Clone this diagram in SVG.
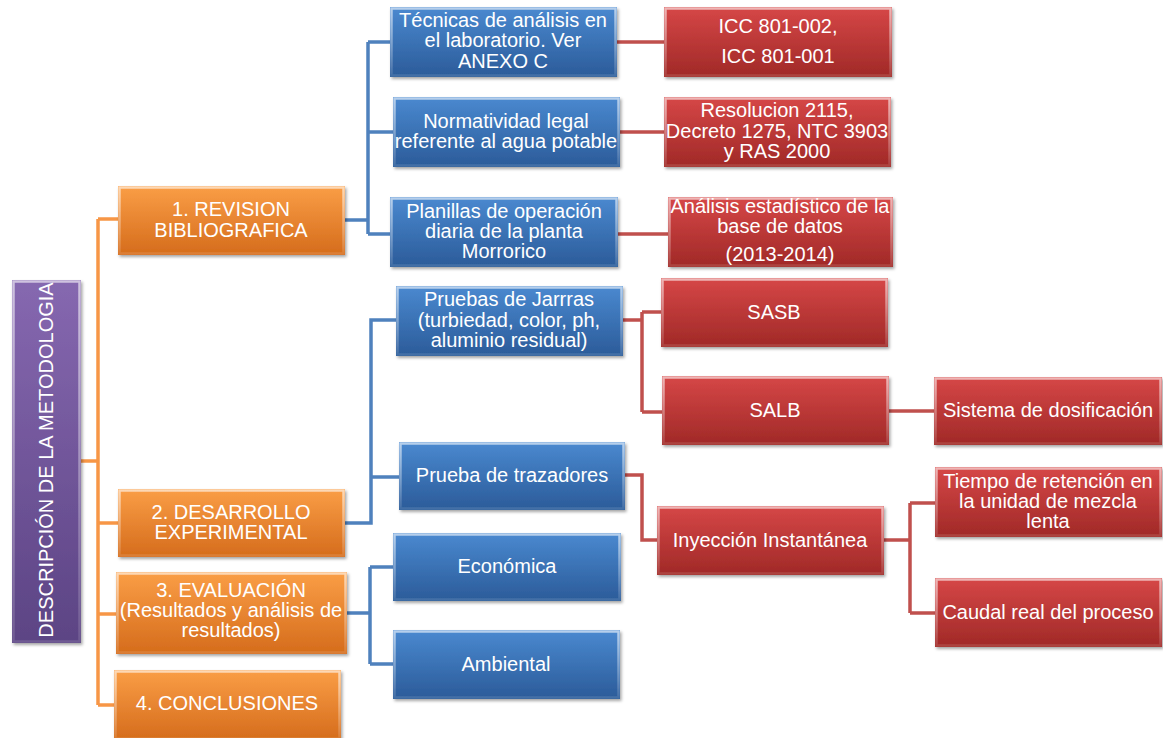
<svg xmlns="http://www.w3.org/2000/svg" width="1163" height="738" viewBox="0 0 1163 738">
<defs>
<linearGradient id="gO" x1="0" y1="0" x2="0" y2="1"><stop offset="0" stop-color="#FA9E46"/><stop offset="1" stop-color="#D56C1C"/></linearGradient>
<linearGradient id="gB" x1="0" y1="0" x2="0" y2="1"><stop offset="0" stop-color="#4A89D0"/><stop offset="1" stop-color="#2B5B99"/></linearGradient>
<linearGradient id="gR" x1="0" y1="0" x2="0" y2="1"><stop offset="0" stop-color="#D64747"/><stop offset="1" stop-color="#A02927"/></linearGradient>
<linearGradient id="gP" x1="0" y1="0" x2="0" y2="1"><stop offset="0" stop-color="#8668B0"/><stop offset="1" stop-color="#5C4484"/></linearGradient>
<linearGradient id="gH" x1="0" y1="0" x2="0" y2="1"><stop offset="0" stop-color="#ffffff" stop-opacity="0.6"/><stop offset="1" stop-color="#ffffff" stop-opacity="0.12"/></linearGradient>
<filter id="sh" x="-5%" y="-5%" width="112%" height="120%"><feDropShadow dx="1.5" dy="2" stdDeviation="1.5" flood-color="#000" flood-opacity="0.35"/></filter>
</defs>
<style>
.face{filter:url(#sh)}
.o .face{fill:url(#gO)}
.b .face{fill:url(#gB)}
.r .face{fill:url(#gR)}
.p .face{fill:url(#gP)}
.hl{fill:none;stroke:url(#gH);stroke-width:2.5}
text{font-family:"Liberation Sans",Arial,sans-serif;font-size:20px;fill:#fff;text-anchor:middle}
.con path{fill:none;stroke-width:3.5;stroke-linejoin:miter}
.co{stroke:#F79646}
.cb{stroke:#4F81BD}
.cr{stroke:#C0504D}
</style>
<rect width="1163" height="738" fill="#fff"/>
<g id="connectors" class="con">
<path class="co" d="M81 461H98M98 219V705M98 219H118M98 523H118M98 614H116M98 705H114"/>
<path class="cb" d="M345 220H368M368 42V234M368 42H390M368 132H393M368 234H390"/>
<path class="cb" d="M345 523H371V320H396M371 477H399"/>
<path class="cb" d="M347 613H370M370 567V664M370 567H393M370 664H393"/>
<path class="cr" d="M617 42H664M620 132H664M618 234H668"/>
<path class="cr" d="M623 320H642M642 312V412M642 312H661M642 412H662M889 411H934"/>
<path class="cr" d="M625 475H642V540H657"/>
<path class="cr" d="M884 540H910M910 503V613M910 503H935M910 613H935"/>
</g>
<g id="root" class="p"><rect class="face" x="12" y="280" width="69" height="363"/><rect class="hl" x="13.5" y="281.5" width="66" height="360"/><text transform="translate(53,460) rotate(-90)">DESCRIPCIÓN DE LA METODOLOGIA</text></g>
<g id="o1" class="o"><rect class="face" x="118" y="186" width="227" height="69"/><rect class="hl" x="119.5" y="187.5" width="224" height="66"/><text x="231" y="216">1. REVISION</text><text x="231" y="237">BIBLIOGRAFICA</text></g>
<g id="o2" class="o"><rect class="face" x="118" y="489" width="227" height="68"/><rect class="hl" x="119.5" y="490.5" width="224" height="65"/><text x="231" y="519">2. DESARROLLO</text><text x="231" y="539">EXPERIMENTAL</text></g>
<g id="o3" class="o"><rect class="face" x="116" y="572" width="231" height="82"/><rect class="hl" x="117.5" y="573.5" width="228" height="79"/><text x="231" y="597">3. EVALUACIÓN</text><text x="231" y="617">(Resultados y análisis de</text><text x="231" y="637">resultados)</text></g>
<g id="o4" class="o"><rect class="face" x="114" y="670" width="227" height="70"/><rect class="hl" x="115.5" y="671.5" width="224" height="67"/><text x="227" y="710">4. CONCLUSIONES</text></g>
<g id="b1" class="b"><rect class="face" x="390" y="7" width="227" height="70"/><rect class="hl" x="391.5" y="8.5" width="224" height="67"/><text x="503" y="27">Técnicas de análisis en</text><text x="503" y="47">el laboratorio. Ver</text><text x="503" y="68">ANEXO C</text></g>
<g id="b2" class="b"><rect class="face" x="393" y="97" width="227" height="70"/><rect class="hl" x="394.5" y="98.5" width="224" height="67"/><text x="506" y="128">Normatividad legal</text><text x="506" y="148">referente al agua potable</text></g>
<g id="b3" class="b"><rect class="face" x="390" y="197" width="228" height="70"/><rect class="hl" x="391.5" y="198.5" width="225" height="67"/><text x="504" y="218">Planillas de operación</text><text x="504" y="238">diaria de la planta</text><text x="504" y="258">Morrorico</text></g>
<g id="r1" class="r"><rect class="face" x="664" y="7" width="228" height="70"/><rect class="hl" x="665.5" y="8.5" width="225" height="67"/><text x="778" y="33">ICC 801-002,</text><text x="778" y="63">ICC 801-001</text></g>
<g id="r2" class="r"><rect class="face" x="664" y="97" width="227" height="70"/><rect class="hl" x="665.5" y="98.5" width="224" height="67"/><text x="777" y="117">Resolucion 2115,</text><text x="777" y="138">Decreto 1275, NTC 3903</text><text x="777" y="158">y RAS 2000</text></g>
<g id="r3" class="r"><rect class="face" x="668" y="197" width="225" height="70"/><rect class="hl" x="669.5" y="198.5" width="222" height="67"/><text x="780" y="213">Análisis estadístico de la</text><text x="780" y="233">base de datos</text><text x="780" y="261">(2013-2014)</text></g>
<g id="b4" class="b"><rect class="face" x="396" y="286" width="227" height="70"/><rect class="hl" x="397.5" y="287.5" width="224" height="67"/><text x="509" y="306">Pruebas de Jarrras</text><text x="509" y="327">(turbiedad, color, ph,</text><text x="509" y="347">aluminio residual)</text></g>
<g id="b5" class="b"><rect class="face" x="399" y="442" width="226" height="68"/><rect class="hl" x="400.5" y="443.5" width="223" height="65"/><text x="512" y="482">Prueba de trazadores</text></g>
<g id="b6" class="b"><rect class="face" x="393" y="533" width="228" height="68"/><rect class="hl" x="394.5" y="534.5" width="225" height="65"/><text x="507" y="573">Económica</text></g>
<g id="b7" class="b"><rect class="face" x="393" y="630" width="227" height="69"/><rect class="hl" x="394.5" y="631.5" width="224" height="66"/><text x="506" y="671">Ambiental</text></g>
<g id="r4" class="r"><rect class="face" x="661" y="278" width="227" height="69"/><rect class="hl" x="662.5" y="279.5" width="224" height="66"/><text x="774" y="319">SASB</text></g>
<g id="r5" class="r"><rect class="face" x="662" y="376" width="227" height="69"/><rect class="hl" x="663.5" y="377.5" width="224" height="66"/><text x="775" y="417">SALB</text></g>
<g id="r6" class="r"><rect class="face" x="934" y="377" width="228" height="68"/><rect class="hl" x="935.5" y="378.5" width="225" height="65"/><text x="1048" y="417">Sistema de dosificación</text></g>
<g id="r7" class="r"><rect class="face" x="657" y="506" width="227" height="69"/><rect class="hl" x="658.5" y="507.5" width="224" height="66"/><text x="770" y="547">Inyección Instantánea</text></g>
<g id="r8" class="r"><rect class="face" x="935" y="467" width="227" height="70"/><rect class="hl" x="936.5" y="468.5" width="224" height="67"/><text x="1048" y="488">Tiempo de retención en</text><text x="1048" y="508">la unidad de mezcla</text><text x="1048" y="528">lenta</text></g>
<g id="r9" class="r"><rect class="face" x="935" y="578" width="227" height="69"/><rect class="hl" x="936.5" y="579.5" width="224" height="66"/><text x="1048" y="619">Caudal real del proceso</text></g>
</svg>
